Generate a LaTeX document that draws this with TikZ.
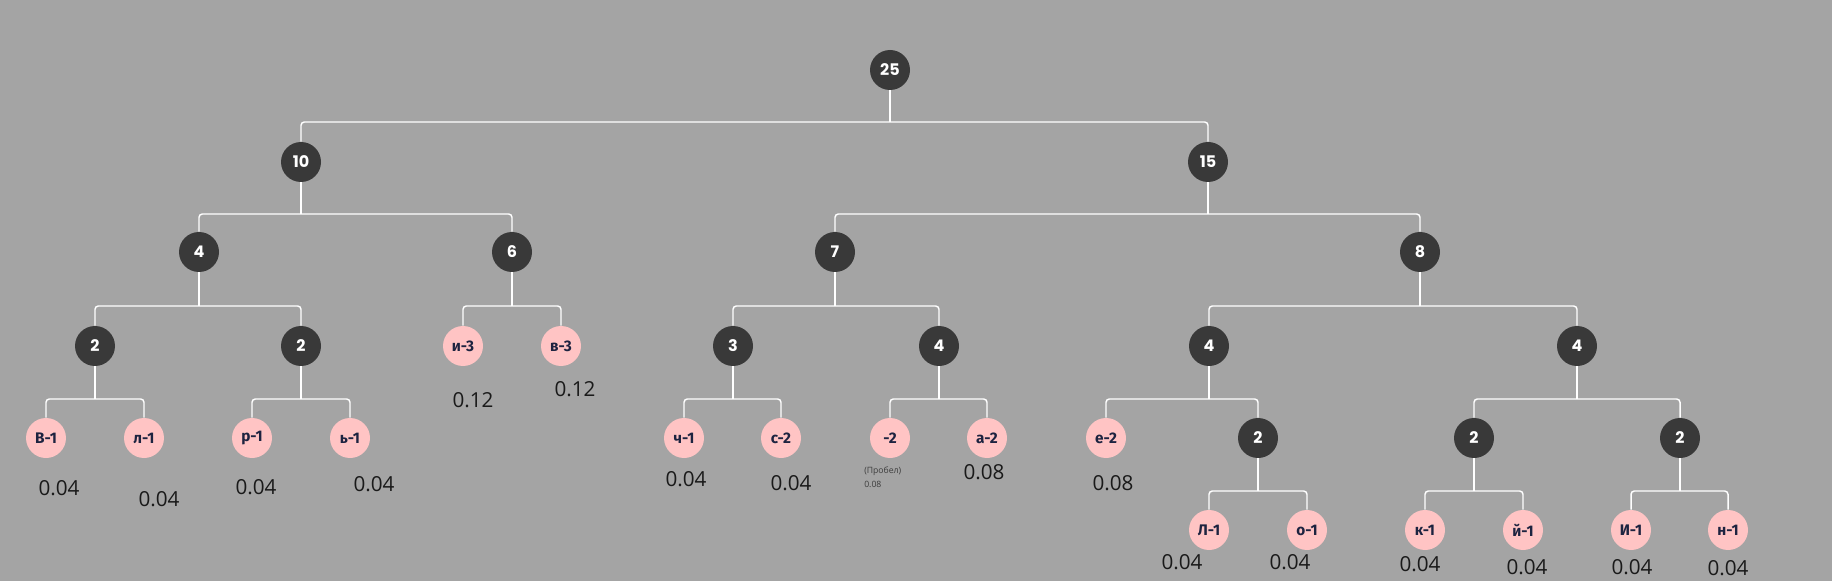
\documentclass[tikz,border=0pt]{standalone}
\usepackage{fontspec}
\usetikzlibrary{calc}
\newfontfamily\popfont{Poppins}
\newfontfamily\leaffont{Fira Sans}
\newfontfamily\labfont{Open Sans}
\definecolor{bgc}{HTML}{A4A4A4}
\definecolor{darknode}{HTML}{393939}
\definecolor{pinknode}{HTML}{FFC4C4}
\definecolor{leaftext}{HTML}{1D2340}
\definecolor{labtext}{HTML}{1A1A1A}
\newcommand\tconn[4]{%
  \coordinate (#1-j) at ($(#1)+(0,#4)$);
  \draw[edge] (#1.south) -- (#1-j);
  \draw[edge] (#2.north) |- (#1-j) -| (#3.north);}
\begin{document}
\begin{tikzpicture}[x=0.75pt,y=-0.75pt,
  inner/.style={circle,fill=darknode,minimum size=30pt,inner sep=0pt,text=white,font=\popfont\bfseries\fontsize{12}{14}\selectfont},
  leaf/.style={circle,fill=pinknode,minimum size=30pt,inner sep=0pt,text=leaftext,font=\leaffont\bfseries\fontsize{11.5}{13}\selectfont},
  lab/.style={text=labtext,inner sep=0pt,font=\labfont\fontsize{15.5}{18}\selectfont},
  small/.style={text=labtext!85,inner sep=0pt,anchor=west,font=\labfont\fontsize{6.5}{8}\selectfont},
  edge/.style={draw=white,line width=1.1pt,rounded corners=2.5pt}]
\fill[bgc] (0,0) rectangle (1832,581);
\useasboundingbox (0,0) rectangle (1832,581);
% level 0-3
\node[inner] (r) at (890,70) {25};
\node[inner] (a) at (301,162) {10};
\node[inner] (b) at (1208,162) {15};
\node[inner] (aa) at (199,252) {4};
\node[inner] (ab) at (512,252) {6};
\node[inner] (ba) at (835,252) {7};
\node[inner] (bb) at (1420,252) {8};
\node[inner] (aaa) at (95,346) {2};
\node[inner] (aab) at (301,346) {2};
\node[leaf] (aba) at (463,346) {и-3};
\node[leaf] (abb) at (561,346) {в-3};
\node[inner] (baa) at (733,346) {3};
\node[inner] (bab) at (939,346) {4};
\node[inner] (bba) at (1209,346) {4};
\node[inner] (bbb) at (1577,346) {4};
% level 4
\node[leaf] (aaaa) at (46,438) {В-1};
\node[leaf] (aaab) at (144,438) {л-1};
\node[leaf] (aaba) at (252,438) {р-1};
\node[leaf] (aabb) at (350,438) {ь-1};
\node[leaf] (baaa) at (684,438) {ч-1};
\node[leaf] (baab) at (781,438) {с-2};
\node[leaf] (baba) at (890,438) {-2};
\node[leaf] (babb) at (987,438) {а-2};
\node[leaf] (bbaa) at (1106,438) {е-2};
\node[inner] (bbab) at (1258,438) {2};
\node[inner] (bbba) at (1474,438) {2};
\node[inner] (bbbb) at (1680,438) {2};
% level 5
\node[leaf] (bbaba) at (1209,530) {Л-1};
\node[leaf] (bbabb) at (1307,530) {о-1};
\node[leaf] (bbbaa) at (1425,530) {к-1};
\node[leaf] (bbbab) at (1523,530) {й-1};
\node[leaf] (bbbba) at (1631,530) {И-1};
\node[leaf] (bbbbb) at (1728,530) {н-1};
% connectors
\tconn{r}{a}{b}{52}
\tconn{a}{aa}{ab}{52}
\tconn{b}{ba}{bb}{52}
\tconn{aa}{aaa}{aab}{54}
\tconn{ab}{aba}{abb}{54}
\tconn{ba}{baa}{bab}{54}
\tconn{bb}{bba}{bbb}{54}
\tconn{aaa}{aaaa}{aaab}{53}
\tconn{aab}{aaba}{aabb}{53}
\tconn{baa}{baaa}{baab}{53}
\tconn{bab}{baba}{babb}{53}
\tconn{bba}{bbaa}{bbab}{53}
\tconn{bbb}{bbba}{bbbb}{53}
\tconn{bbab}{bbaba}{bbabb}{53}
\tconn{bbba}{bbbaa}{bbbab}{53}
\tconn{bbbb}{bbbba}{bbbbb}{53}
% probability labels
\node[lab] (p-aba) at (473,400) {0.12};
\node[lab] (p-abb) at (575,389) {0.12};
\node[lab] (p-aaaa) at (59,488) {0.04};
\node[lab] (p-aaab) at (159,499) {0.04};
\node[lab] (p-aaba) at (256,487) {0.04};
\node[lab] (p-aabb) at (374,484) {0.04};
\node[lab] (p-baaa) at (686,479) {0.04};
\node[lab] (p-baab) at (791,483) {0.04};
\node[small] (p-baba1) at (864,471) {(Пробел)};
\node[small] (p-baba2) at (864,484) {0.08};
\node[lab] (p-babb) at (984,472) {0.08};
\node[lab] (p-bbaa) at (1113,483) {0.08};
\node[lab] (p-bbaba) at (1182,562) {0.04};
\node[lab] (p-bbabb) at (1290,562) {0.04};
\node[lab] (p-bbbaa) at (1420,564) {0.04};
\node[lab] (p-bbbab) at (1527,567) {0.04};
\node[lab] (p-bbbba) at (1632,567) {0.04};
\node[lab] (p-bbbbb) at (1728,568) {0.04};
\end{tikzpicture}
\end{document}
